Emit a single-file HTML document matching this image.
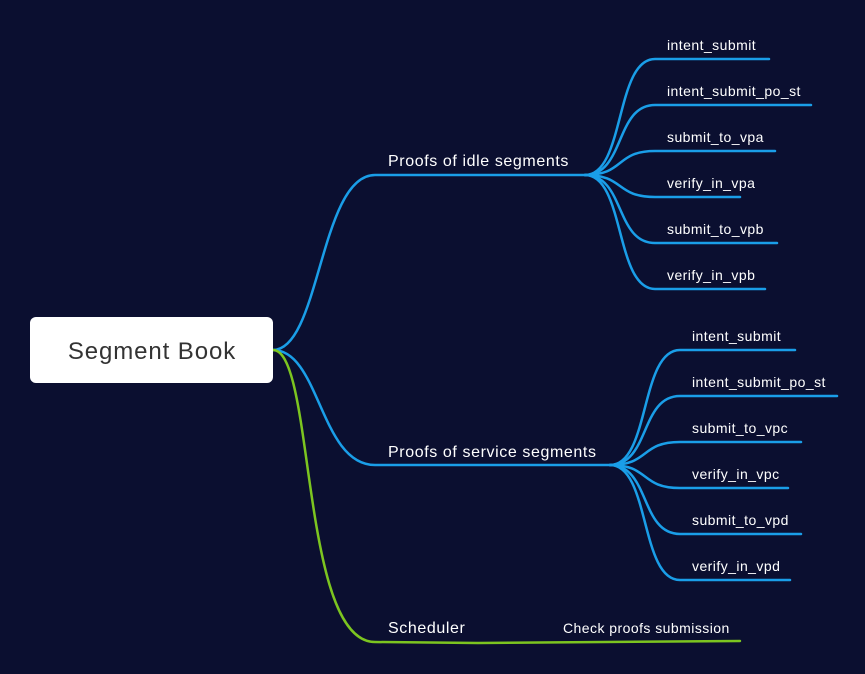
<!DOCTYPE html>
<html><head><style>
body{margin:0;background:#0b0f30;}
svg{display:block}
text{font-family:"Liberation Sans",sans-serif;fill:#fff}
</style></head><body>
<svg width="865" height="674" viewBox="0 0 865 674">
<rect width="865" height="674" fill="#0b0f30"/>
<g fill="none" stroke="#1a9ee8" stroke-width="2.5" stroke-linecap="round">
<path d="M273 350 C320 350 320 175 375 175 L585 175"/>
<path d="M273 350 C320 350 320 465 375 465 L610 465"/>
<g transform="translate(585,175)">
<path d="M0 0 C40 0 30 -116 70 -116 L184 -116"/>
<path d="M0 0 C40 0 30 -70 70 -70 L226 -70"/>
<path d="M0 0 C40 0 30 -24 70 -24 L190 -24"/>
<path d="M0 0 C40 0 30 22 70 22 L155 22"/>
<path d="M0 0 C40 0 30 68 70 68 L192 68"/>
<path d="M0 0 C40 0 30 114 70 114 L180 114"/>
</g>
<g transform="translate(610,465)">
<path d="M0 0 C40 0 30 -115 70 -115 L185 -115"/>
<path d="M0 0 C40 0 30 -69 70 -69 L227 -69"/>
<path d="M0 0 C40 0 30 -23 70 -23 L191 -23"/>
<path d="M0 0 C40 0 30 23 70 23 L178 23"/>
<path d="M0 0 C40 0 30 69 70 69 L191 69"/>
<path d="M0 0 C40 0 30 115 70 115 L180 115"/>
</g>
</g>
<path d="M273 350 C315 350 300 642 375 642 L478 643 L740 641" fill="none" stroke="#7cc520" stroke-width="2.5" stroke-linecap="round"/>
<rect x="30" y="317" width="243" height="66" rx="6" fill="#fff"/>
<text x="152" y="359" font-size="24" text-anchor="middle" letter-spacing="0.9" style="fill:#333">Segment Book</text>
<g font-size="16" letter-spacing="0.6">
<text x="388" y="166">Proofs of idle segments</text>
<text x="388" y="457">Proofs of service segments</text>
<text x="388" y="633">Scheduler</text>
</g>
<g font-size="14" letter-spacing="0.45">
<text x="667" y="50">intent_submit</text>
<text x="667" y="96">intent_submit_po_st</text>
<text x="667" y="142">submit_to_vpa</text>
<text x="667" y="188">verify_in_vpa</text>
<text x="667" y="234">submit_to_vpb</text>
<text x="667" y="280">verify_in_vpb</text>
<text x="692" y="341">intent_submit</text>
<text x="692" y="387">intent_submit_po_st</text>
<text x="692" y="433">submit_to_vpc</text>
<text x="692" y="479">verify_in_vpc</text>
<text x="692" y="525">submit_to_vpd</text>
<text x="692" y="571">verify_in_vpd</text>
<text x="563" y="633">Check proofs submission</text>
</g>
</svg>
</body></html>
